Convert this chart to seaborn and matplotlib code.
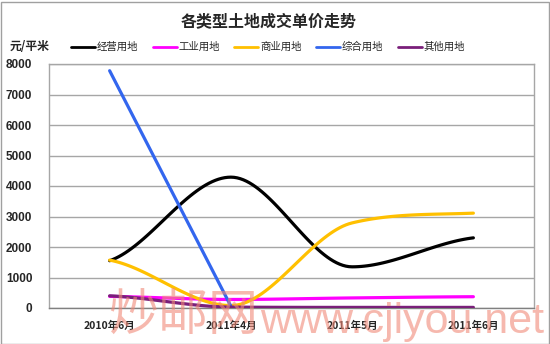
import numpy as np
import pandas as pd
import matplotlib
matplotlib.use("Agg")
import matplotlib.pyplot as plt
from matplotlib.lines import Line2D
from matplotlib.patches import Rectangle
import seaborn as sns

sns.set_theme(style="white")
plt.rcParams['font.family'] = ['Noto Sans CJK SC', 'DejaVu Sans']

# ---- data ----
categories = ["2010年6月", "2011年4月", "2011年5月", "2011年6月"]
jingying = [1550, 4290, 1350, 2300]      # 经营用地
gongye = [380, 280, 330, 370]            # 工业用地
shangye = [1570, 80, 2790, 3110]         # 商业用地
zonghe = [7780, 60, np.nan, np.nan]      # 综合用地
qita = [400, 30, 20, 20]                 # 其他用地
series_names = ["经营用地", "工业用地", "商业用地", "综合用地", "其他用地"]
series_values = [jingying, gongye, shangye, zonghe, qita]
colors = ["#000000", "#ff00ff", "#ffc000", "#3366ee", "#7a1f7a"]
yticks = [0, 1000, 2000, 3000, 4000, 5000, 6000, 7000, 8000]


def smooth(xs, ys, n=40):
    """Smoothed-line rendering (limited cubic Bezier) of a series."""
    pts = [(x, y) for x, y in zip(xs, ys) if not np.isnan(y)]
    P = np.array(pts, dtype=float)
    m = len(P)
    dx = np.diff(P[:, 0])
    s = np.diff(P[:, 1]) / dx
    d = np.zeros(m)
    if m > 2:
        for i in range(1, m - 1):
            if s[i - 1] * s[i] > 0:
                c = (P[i + 1, 1] - P[i - 1, 1]) / (P[i + 1, 0] - P[i - 1, 0])
                lim = 3.0 * min(abs(s[i - 1]), abs(s[i]))
                d[i] = np.sign(c) * min(abs(c), lim)
            else:
                d[i] = 0.0
        d[0] = s[0] / 2.0
        d[-1] = s[-1] / 2.0
    else:
        d[:] = s[0]
    out = [P[0]]
    t = np.linspace(0, 1, n)[1:, None]
    for i in range(m - 1):
        p0, p3 = P[i], P[i + 1]
        h = dx[i] / 3.0
        c1 = p0 + np.array([h, d[i] * h])
        c2 = p3 - np.array([h, d[i + 1] * h])
        seg = ((1 - t) ** 3) * p0 + 3 * ((1 - t) ** 2) * t * c1 + 3 * (1 - t) * t ** 2 * c2 + t ** 3 * p3
        out.extend(seg)
    out = np.array(out)
    return out[:, 0], out[:, 1]


fig = plt.figure(figsize=(5.5, 3.44), dpi=100)
fig.patch.set_facecolor("white")
ax = fig.add_axes([49 / 550, 1 - 308 / 344, (534 - 49) / 550, (308 - 64) / 344])

xpos = np.arange(len(categories))
draw_order = [0, 2, 3, 1, 4]
for k in draw_order:
    sx, sy = smooth(xpos, series_values[k])
    df = pd.DataFrame({"x": sx, "y": sy})
    sns.lineplot(data=df, x="x", y="y", sort=False, estimator=None, ax=ax,
                 color=colors[k], linewidth=2.3, zorder=3 + k)

ax.set_xlim(-0.5, len(categories) - 0.5)
ax.set_ylim(0, 8000)
ax.set_yticks(yticks)
ax.set_yticklabels([str(v) for v in yticks], fontsize=8.5, fontweight="bold",
                   family="Liberation Sans")
ax.set_xticks(xpos)
ax.set_xticklabels(categories, fontsize=7.5, fontweight="bold")
ax.tick_params(axis="y", length=0, pad=12)
ax.tick_params(axis="x", length=0, pad=9)
ax.set_xlabel("")
ax.set_ylabel("")
ax.yaxis.grid(True, color="#a6a6a6", linewidth=1.0)
ax.set_axisbelow(True)
for s in ["left", "top", "right"]:
    ax.spines[s].set_color("#a6a6a6")
    ax.spines[s].set_linewidth(1.0)
ax.spines["bottom"].set_color("#808080")
ax.spines["bottom"].set_linewidth(1.0)

# title & unit
fig.text(269 / 550, 1 - 22 / 344, "各类型土地成交单价走势", ha="center", va="center",
         fontsize=11.5, fontweight="bold")
fig.text(10 / 550, 1 - 47 / 344, "元/平米", ha="left", va="center",
         fontsize=8.5, fontweight="bold")

# legend
handles = [Line2D([0], [0], color=c, lw=2.0) for c in colors]
fig.legend(handles, series_names, loc="center", bbox_to_anchor=(268 / 550, 1 - 47 / 344),
           ncol=5, frameon=False, fontsize=7.5, handlelength=2.3, handletextpad=0.15,
           columnspacing=1.4, borderaxespad=0, borderpad=0)

# watermark
fig.text(108 / 550, 1 - 330 / 344, "炒邮网", ha="left", va="baseline", fontsize=36,
         color="#f08a78", alpha=0.6, zorder=20)
fig.text(260 / 550, 1 - 333 / 344, "www.cjiyou.net", ha="left", va="baseline", fontsize=31,
         color="#f08a78", alpha=0.6, zorder=20, family="Liberation Sans")

# outer border
fig.patches.append(Rectangle((0.5 / 550, 0.5 / 344), 548.5 / 550, 342 / 344,
                             transform=fig.transFigure, fill=False,
                             edgecolor="#a0a0a0", linewidth=1.0))

fig.savefig("out.png", dpi=100)
